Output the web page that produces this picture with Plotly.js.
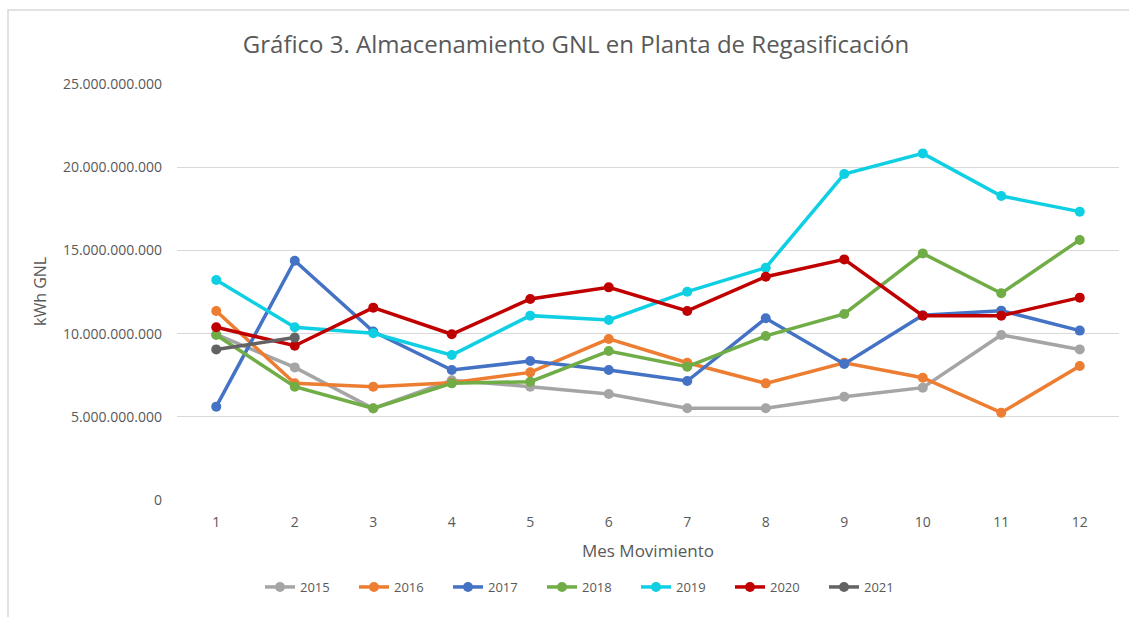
<!DOCTYPE html>
<html>
<head>
<meta charset="utf-8">
<script src="https://cdn.plot.ly/plotly-3.0.1.min.js"></script>
<style>
html,body{margin:0;padding:0;background:#fff;}
#chart{width:1129px;height:617px;}
</style>
</head>
<body>
<div id="chart"></div>
<script>
const months = [1,2,3,4,5,6,7,8,9,10,11,12];
const years = ["2015","2016","2017","2018","2019","2020","2021"];
const s2015 = [9.95e9, 7.97e9, 5.50e9, 7.20e9, 6.81e9, 6.37e9, 5.51e9, 5.51e9, 6.21e9, 6.75e9, 9.92e9, 9.05e9];
const s2016 = [11.36e9, 7.01e9, 6.81e9, 7.05e9, 7.67e9, 9.68e9, 8.25e9, 7.01e9, 8.25e9, 7.35e9, 5.25e9, 8.05e9];
const s2017 = [5.61e9, 14.38e9, 10.12e9, 7.81e9, 8.35e9, 7.81e9, 7.15e9, 10.92e9, 8.17e9, 11.10e9, 11.38e9, 10.18e9];
const s2018 = [9.92e9, 6.81e9, 5.51e9, 7.01e9, 7.11e9, 8.95e9, 8.01e9, 9.86e9, 11.18e9, 14.82e9, 12.42e9, 15.63e9];
const s2019 = [13.22e9, 10.38e9, 10.02e9, 8.71e9, 11.08e9, 10.82e9, 12.52e9, 13.96e9, 19.59e9, 20.83e9, 18.27e9, 17.33e9];
const s2020 = [10.38e9, 9.27e9, 11.56e9, 9.96e9, 12.08e9, 12.78e9, 11.36e9, 13.42e9, 14.46e9, 11.08e9, 11.08e9, 12.16e9];
const s2021 = [9.05e9, 9.76e9];
const yTicks = [0, 5e9, 10e9, 15e9, 20e9, 25e9];
const colors = ["#A5A5A5", "#ED7D31", "#4472C4", "#70AD47", "#0FCFE3", "#C00000", "#636363"];

const seriesList = [s2015, s2016, s2017, s2018, s2019, s2020, s2021];
const traces = seriesList.map((vals, i) => ({
  type: "scatter",
  mode: "lines+markers",
  name: years[i],
  x: months.slice(0, vals.length),
  y: vals,
  line: {color: colors[i], width: 3.5},
  marker: {color: colors[i], size: 10},
  hoverinfo: "x+y+name"
}));

const txt = "#595959";
const fontFam = "'Open Sans', 'Noto Sans', sans-serif";
const L = 177, R = 1119, T = 84, B = 500;
const W = R - L, H = B - T;

const layout = {
  width: 1129, height: 617,
  margin: {l: L, r: 1129 - R, t: T, b: 617 - B, pad: 0},
  paper_bgcolor: "#fff",
  plot_bgcolor: "#fff",
  separators: ",.",
  font: {family: fontFam, color: txt, size: 13},
  title: {
    text: "Gráfico 3. Almacenamiento GNL en Planta de Regasificación",
    font: {family: fontFam, size: 24, color: txt},
    xref: "container", x: 576/1129, xanchor: "center",
    yref: "container", y: 1 - 45/617, yanchor: "middle"
  },
  showlegend: true,
  legend: {
    orientation: "h",
    xref: "paper", x: (589 - L)/W, xanchor: "center",
    yref: "paper", y: (B - 587)/H, yanchor: "middle",
    font: {family: fontFam, size: 13, color: txt},
    entrywidth: 49,
    entrywidthmode: "pixels",
    tracegroupgap: 0
  },
  xaxis: {
    range: [0.5, 12.5],
    tickmode: "array",
    tickvals: months,
    ticktext: months.map(String),
    showgrid: false,
    zeroline: false,
    showline: false,
    ticks: "",
    ticklabelstandoff: 12,
    tickfont: {family: fontFam, size: 14, color: txt},
    fixedrange: true
  },
  yaxis: {
    range: [0, 25e9],
    tickmode: "array",
    tickvals: yTicks,
    tickformat: ",d",
    showgrid: true,
    gridcolor: "#D9D9D9",
    gridwidth: 1,
    zeroline: false,
    showline: false,
    ticks: "",
    ticklabelstandoff: 14,
    tickfont: {family: fontFam, size: 14, color: txt},
    fixedrange: true
  },
  annotations: [
    {
      text: "Mes Movimiento",
      xref: "paper", x: (648 - L)/W, xanchor: "center",
      yref: "paper", y: (B - 550)/H, yanchor: "middle",
      showarrow: false,
      font: {family: fontFam, size: 17, color: txt}
    },
    {
      text: "kWh GNL",
      xref: "paper", x: (40 - L)/W, xanchor: "center",
      yref: "paper", y: (B - 292)/H, yanchor: "middle",
      textangle: -90,
      showarrow: false,
      font: {family: fontFam, size: 16, color: txt}
    }
  ],
  shapes: [
    {
      type: "rect", xref: "paper", yref: "paper",
      x0: (8 - L)/W, x1: (1140 - L)/W,
      y0: (B - 630)/H, y1: (B - 10)/H,
      line: {color: "#D9D9D9", width: 1.5},
      fillcolor: "rgba(0,0,0,0)",
      layer: "below"
    }
  ]
};

Plotly.newPlot("chart", traces, layout, {displayModeBar: false, responsive: false});
</script>
</body>
</html>
